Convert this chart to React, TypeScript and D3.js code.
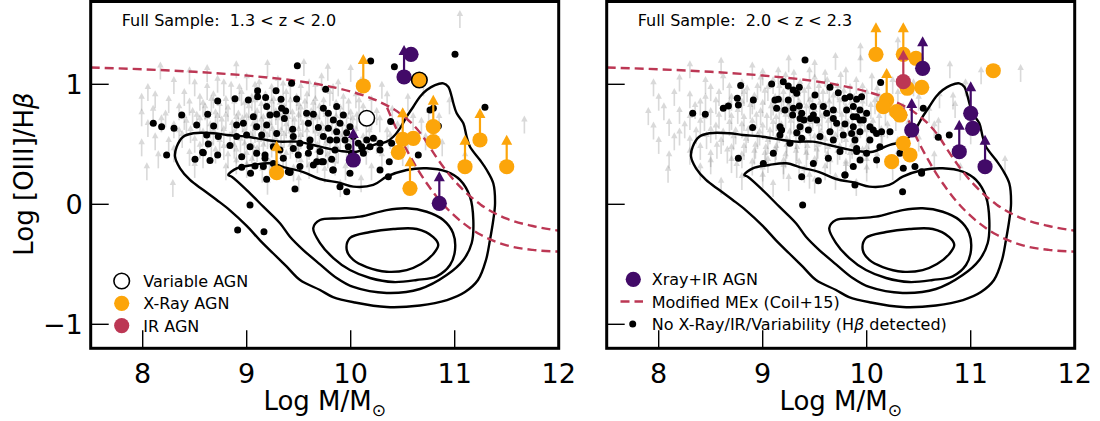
import React from 'react';
import * as d3 from 'd3';

type P = [number, number];
type L = [number, number, number];

const X_DOMAIN: P = [7.5, 12];
const Y_DOMAIN: P = [-1.2, 1.7];
const X_TICKS = [8, 9, 10, 11, 12];
const Y_TICKS = [-1, 0, 1];
const Y_TICK_LABELS = ['\u22121', '0', '1'];

const C_ORANGE = '#fca50a';
const C_PURPLE = '#420a68';
const C_RED = '#bc3754';

// Modified MEx demarcation (Coil+15)
const MEX_UPPER: P[] = [
  [7.5, 1.14], [8.0, 1.125], [8.5, 1.104], [9.0, 1.073], [9.5, 1.026], [9.75, 0.99], [10.0, 0.94],
  [10.25, 0.865], [10.5, 0.74], [10.6, 0.663], [10.7, 0.558], [10.75, 0.49], [10.9, 0.3], [11.0, 0.194],
  [11.1, 0.105], [11.25, -0.003], [11.5, -0.12], [11.75, -0.181], [12.0, -0.22],
];
const MEX_LOWER: P[] = [
  [10.35, 0.805], [10.4, 0.705], [10.45, 0.608], [10.5, 0.518], [10.6, 0.357], [10.65, 0.283],
  [10.75, 0.152], [10.875, 0.013], [11.0, -0.097], [11.25, -0.254], [11.5, -0.342], [11.75, -0.38], [12.0, -0.394],
];

// SDSS density contours
const CONTOUR_OUTER: P[] = [
  [8.311, 0.397], [8.327, 0.48], [8.39, 0.563], [8.487, 0.592], [8.679, 0.592], [8.808, 0.578], [9.0, 0.563],
  [9.192, 0.536], [9.32, 0.522], [9.481, 0.522], [9.64, 0.494], [9.769, 0.467], [9.897, 0.445], [10.058, 0.438],
  [10.217, 0.494], [10.346, 0.522], [10.41, 0.563], [10.474, 0.633], [10.538, 0.73], [10.602, 0.813],
  [10.666, 0.897], [10.731, 0.953], [10.811, 0.994], [10.89, 1.008], [10.938, 0.98], [10.971, 0.897],
  [10.987, 0.842], [11.019, 0.758], [11.083, 0.675], [11.115, 0.563], [11.147, 0.48], [11.243, 0.369],
  [11.308, 0.286], [11.371, 0.175], [11.388, 0.008], [11.371, -0.131], [11.339, -0.298], [11.301, -0.464],
  [11.224, -0.631], [11.099, -0.731], [10.926, -0.798], [10.666, -0.843], [10.346, -0.856], [10.041, -0.818],
  [9.83, -0.773], [9.705, -0.714], [9.513, -0.631], [9.385, -0.52], [9.256, -0.41], [9.128, -0.3],
  [9.0, -0.18], [8.839, -0.05], [8.712, 0.036], [8.583, 0.119], [8.455, 0.203], [8.359, 0.3],
];
const CONTOUR_MID: P[] = [
  [8.823, 0.244], [8.904, 0.3], [9.063, 0.328], [9.224, 0.342], [9.385, 0.303], [9.544, 0.269], [9.705, 0.211],
  [9.897, 0.178], [10.025, 0.147], [10.217, 0.161], [10.346, 0.23], [10.538, 0.286], [10.731, 0.3],
  [10.923, 0.272], [11.051, 0.203], [11.147, 0.063], [11.179, -0.131], [11.163, -0.325], [11.083, -0.464],
  [10.923, -0.59], [10.666, -0.706], [10.346, -0.739], [10.025, -0.689], [9.865, -0.614], [9.705, -0.5],
  [9.544, -0.381], [9.416, -0.27], [9.32, -0.158], [9.16, -0.02], [9.0, 0.119], [8.856, 0.23],
];
const CONTOUR_THIRD: P[] = [
  [9.64, -0.198], [9.705, -0.131], [9.897, -0.117], [10.089, -0.103], [10.346, -0.048], [10.538, -0.033],
  [10.731, -0.062], [10.89, -0.131], [10.984, -0.239], [11.003, -0.381], [10.955, -0.506], [10.827, -0.6],
  [10.635, -0.631], [10.41, -0.648], [10.186, -0.614], [9.993, -0.548], [9.833, -0.448], [9.705, -0.323],
];
const CONTOUR_INNER: P[] = [
  [9.962, -0.381], [9.993, -0.281], [10.186, -0.231], [10.41, -0.206], [10.635, -0.206], [10.794, -0.273],
  [10.842, -0.339], [10.794, -0.414], [10.676, -0.498], [10.538, -0.548], [10.346, -0.562], [10.154, -0.523],
  [10.025, -0.464],
];

// ---------- Left panel (1.3 < z < 2.0) ----------
// H-beta non-detections (lower limits), sparse outskirts
const LEFT_GREY: P[] = [
  [8.17, 1.04], [8.45, 1.0], [8.62, 1.02], [8.9, 1.05], [9.2, 1.06], [9.55, 1.07], [9.78, 1.03], [10.0, 1.02],
  [8.05, 0.86], [8.3, 0.92], [8.5, 0.9], [8.72, 0.93], [8.85, 0.88], [9.0, 0.95], [9.12, 0.9], [9.3, 0.93],
  [9.42, 0.88], [9.6, 0.9], [9.72, 0.95], [9.88, 0.9], [10.1, 0.92], [10.3, 0.88],
  [7.99, 0.78], [8.12, 0.8], [8.25, 0.76], [8.4, 0.82], [8.55, 0.78], [8.68, 0.8], [8.8, 0.76], [8.95, 0.82],
  [9.05, 0.78], [9.18, 0.8], [9.26, 0.76], [9.38, 0.82], [9.48, 0.78], [9.58, 0.8], [9.66, 0.76], [9.8, 0.82],
  [9.93, 0.78], [10.05, 0.8], [10.2, 0.76], [10.35, 0.8], [10.55, 0.78],
  [7.99, 0.65], [8.1, 0.68], [8.22, 0.64], [8.35, 0.7], [8.48, 0.66], [8.6, 0.7], [8.7, 0.65], [8.82, 0.69],
  [8.92, 0.64], [9.02, 0.7], [9.1, 0.66], [9.2, 0.71], [9.28, 0.66], [9.36, 0.7], [9.44, 0.65], [9.52, 0.69],
  [9.62, 0.66], [9.7, 0.7], [9.78, 0.64], [9.9, 0.69], [10.0, 0.65], [10.12, 0.7], [10.25, 0.66], [10.4, 0.68],
  [10.6, 0.62], [10.75, 0.66],
  [8.05, 0.56], [8.18, 0.6], [8.3, 0.55], [8.42, 0.58], [8.55, 0.6], [8.65, 0.55], [8.76, 0.59], [8.86, 0.56],
  [8.96, 0.6], [9.06, 0.55], [9.14, 0.59], [9.22, 0.56], [9.3, 0.6], [9.38, 0.55], [9.46, 0.59], [9.54, 0.56],
  [9.64, 0.6], [9.72, 0.55], [9.82, 0.58], [9.92, 0.55], [10.02, 0.6], [10.15, 0.56], [10.28, 0.6], [10.45, 0.55],
  [10.68, 0.58], [10.85, 0.62],
  [7.99, 0.4], [8.12, 0.45], [8.25, 0.42], [8.38, 0.47], [8.5, 0.43], [8.62, 0.46], [8.74, 0.42], [8.84, 0.46],
  [8.94, 0.43], [9.04, 0.47], [9.12, 0.42], [9.2, 0.46], [9.28, 0.43], [9.36, 0.47], [9.44, 0.42], [9.52, 0.46],
  [9.6, 0.43], [9.7, 0.47], [9.8, 0.42], [9.9, 0.46], [10.0, 0.42], [10.12, 0.45], [10.25, 0.42], [10.38, 0.46],
  [10.55, 0.44], [10.72, 0.45], [10.88, 0.4],
  [8.15, 0.3], [8.3, 0.35], [8.45, 0.32], [8.58, 0.3], [8.7, 0.34], [8.82, 0.3], [8.9, 0.34], [9.0, 0.31],
  [9.1, 0.35], [9.18, 0.3], [9.28, 0.34], [9.38, 0.31], [9.48, 0.35], [9.58, 0.3], [9.68, 0.33], [9.78, 0.3],
  [9.88, 0.34], [10.0, 0.31], [10.15, 0.33], [10.3, 0.3], [10.5, 0.32],
  [8.04, 0.2], [8.5, 0.22], [8.8, 0.2], [9.0, 0.22], [9.15, 0.18], [9.3, 0.22], [9.45, 0.19], [9.6, 0.21],
  [9.75, 0.18], [9.95, 0.2], [10.2, 0.2],
  [8.29, 0.06], [9.2, 0.08], [9.5, 0.1], [9.9, 0.06], [10.1, 0.1],
  [11.05, 1.47], [11.67, 0.59], [10.95, 0.75], [10.7, 0.9], [11.1, 0.3],
];
// H-beta non-detections, dense core of the cloud
const LEFT_GREY_CORE: P[] = [
  [8.62, 0.87], [8.78, 0.9], [8.93, 0.86], [9.08, 0.88], [9.24, 0.86], [9.35, 0.89], [9.52, 0.87], [9.66, 0.88], [9.83, 0.86],
  [8.45, 0.74], [8.58, 0.73], [8.66, 0.76], [8.74, 0.72], [8.88, 0.74], [8.98, 0.73], [9.08, 0.75], [9.14, 0.72],
  [9.24, 0.74], [9.32, 0.73], [9.42, 0.75], [9.5, 0.72], [9.56, 0.74], [9.64, 0.73], [9.74, 0.75], [9.86, 0.73],
  [9.98, 0.74], [10.08, 0.75],
  [8.4, 0.62], [8.52, 0.63], [8.62, 0.61], [8.72, 0.62], [8.8, 0.63], [8.9, 0.61], [9.0, 0.62], [9.08, 0.63],
  [9.16, 0.61], [9.24, 0.63], [9.34, 0.62], [9.4, 0.61], [9.5, 0.63], [9.58, 0.62], [9.68, 0.61], [9.76, 0.63],
  [9.86, 0.62], [9.96, 0.61], [10.06, 0.63], [10.2, 0.62],
  [8.35, 0.5], [8.46, 0.51], [8.58, 0.49], [8.68, 0.5], [8.78, 0.51], [8.88, 0.49], [8.98, 0.5], [9.08, 0.51],
  [9.17, 0.49], [9.25, 0.51], [9.33, 0.5], [9.42, 0.49], [9.5, 0.51], [9.58, 0.5], [9.66, 0.49], [9.75, 0.51],
  [9.85, 0.5], [9.95, 0.49], [10.05, 0.51], [10.18, 0.5], [10.35, 0.5],
  [8.55, 0.38], [8.66, 0.39], [8.78, 0.37], [8.88, 0.38], [8.98, 0.39], [9.06, 0.37], [9.16, 0.38], [9.24, 0.39],
  [9.33, 0.37], [9.42, 0.38], [9.5, 0.39], [9.6, 0.37], [9.68, 0.38], [9.76, 0.39], [9.86, 0.37], [9.96, 0.38],
  [8.9, 0.25], [9.05, 0.26], [9.22, 0.24], [9.35, 0.26], [9.52, 0.25], [9.68, 0.26], [9.85, 0.24],
];
const LEFT_BLACK: P[] = [
  [9.487, 1.155], [9.432, 1.008], [9.759, 0.958], [9.105, 0.947], [9.282, 0.947], [8.887, 0.88], [9.016, 0.869],
  [9.105, 0.897], [9.182, 0.891], [9.33, 0.875], [9.48, 0.877], [8.721, 0.861], [9.192, 0.814], [9.336, 0.8],
  [9.375, 0.777], [9.224, 0.744], [9.288, 0.75], [9.362, 0.716], [8.375, 0.744], [8.102, 0.675], [8.182, 0.647],
  [8.301, 0.633], [8.519, 0.661], [8.625, 0.75], [8.682, 0.652], [8.903, 0.661], [8.968, 0.675], [9.064, 0.73],
  [9.096, 0.647], [9.192, 0.661], [9.442, 0.625], [9.576, 0.758], [9.641, 0.75], [9.737, 0.8], [9.785, 0.758],
  [9.865, 0.814], [9.833, 0.702], [9.785, 0.633], [9.593, 0.675], [9.689, 0.639], [9.865, 0.605], [8.615, 0.577],
  [8.727, 0.564], [8.903, 0.564], [8.999, 0.577], [9.144, 0.577], [9.288, 0.591], [9.448, 0.564], [9.512, 0.508],
  [9.448, 0.466], [9.609, 0.536], [9.737, 0.564], [9.801, 0.536], [8.631, 0.502], [8.839, 0.489], [9.032, 0.48],
  [9.256, 0.48], [9.32, 0.452], [9.609, 0.48], [9.705, 0.439], [9.849, 0.452], [8.23, 0.411], [8.503, 0.375],
  [8.576, 0.433], [8.721, 0.411], [8.952, 0.397], [9.096, 0.425], [9.176, 0.383], [9.352, 0.383], [9.496, 0.411],
  [9.593, 0.425], [9.721, 0.355], [9.817, 0.375], [9.641, 0.327], [9.512, 0.314], [9.08, 0.319], [9.16, 0.314],
  [9.416, 0.264], [9.464, 0.128], [9.192, 0.208], [9.032, -0.006], [9.166, -0.228], [8.913, -0.214],
  [9.037, 0.258], [9.416, 0.272], [9.256, 0.341], [9.4, 0.272], [9.673, 0.355], [9.737, 0.355], [9.827, 0.286],
  [8.952, 0.308], [8.647, 0.364], [8.583, 0.43], [9.176, 0.411],
  [11.003, 1.25], [10.192, 1.194], [10.42, 1.147], [9.929, 0.744], [9.897, 0.675], [9.993, 0.647], [9.961, 0.597],
  [9.865, 0.536], [9.945, 0.536], [10.025, 0.564], [10.073, 0.508], [10.105, 0.48], [10.154, 0.536],
  [10.218, 0.55], [10.186, 0.48], [10.122, 0.425], [9.977, 0.48], [10.009, 0.425], [10.282, 0.508],
  [10.394, 0.508], [10.384, 0.689], [10.371, 0.355], [10.65, 0.411], [10.763, 0.786], [10.795, 0.8],
  [10.843, 0.653], [11.291, 0.808], [9.993, 0.258], [9.833, 0.286], [10.282, 0.286], [10.362, 0.23],
  [10.282, 0.452], [9.897, 0.147], [9.962, 0.105],
];
// [x, y, lowerLimit]
const LEFT_XRAY: L[] = [
  [10.121, 0.986, 1], [10.5, 0.542, 1], [10.458, 0.433, 0], [10.602, 0.55, 0], [10.794, 0.647, 1],
  [10.794, 0.522, 0], [10.57, 0.133, 1], [11.099, 0.313, 1], [11.243, 0.536, 1], [11.5, 0.313, 1],
  [9.288, 0.263, 1],
];
const LEFT_XRAYIR: L[] = [
  [10.025, 0.369, 1], [10.58, 1.25, 0], [10.513, 1.061, 1], [10.852, 0.008, 1],
];
const LEFT_VARIABLE: P[] = [[10.154, 0.717]];
const LEFT_XRAY_VARIABLE: P[] = [[10.66, 1.036]];

// ---------- Right panel (2.0 < z < 2.3) ----------
const RIGHT_GREY: P[] = [
  [8.3, 1.05], [8.6, 1.08], [8.9, 1.04], [9.25, 1.1], [9.5, 1.06], [9.7, 1.12], [9.94, 1.1],
  [7.95, 0.9], [8.2, 0.94], [8.45, 0.92], [8.62, 0.95], [8.8, 0.9], [8.98, 0.94], [9.1, 0.92], [9.22, 0.96],
  [9.36, 0.9], [9.5, 0.94], [9.62, 0.92], [9.75, 0.96], [9.9, 0.92], [10.05, 0.95], [10.25, 0.92], [10.45, 0.9],
  [8.0, 0.78], [8.15, 0.82], [8.3, 0.8], [8.45, 0.78], [8.58, 0.82], [8.7, 0.78], [8.82, 0.82], [8.92, 0.79],
  [9.02, 0.83], [9.12, 0.78], [9.2, 0.82], [9.3, 0.79], [9.4, 0.83], [9.48, 0.78], [9.58, 0.82], [9.68, 0.79],
  [9.78, 0.83], [9.88, 0.78], [10.0, 0.82], [10.12, 0.79], [10.3, 0.82], [10.5, 0.78], [10.7, 0.8],
  [7.9, 0.66], [8.05, 0.7], [8.2, 0.67], [8.35, 0.71], [8.5, 0.66], [8.64, 0.7], [8.76, 0.67], [8.88, 0.71],
  [8.98, 0.66], [9.08, 0.7], [9.16, 0.67], [9.25, 0.71], [9.34, 0.66], [9.42, 0.7], [9.5, 0.67], [9.6, 0.71],
  [9.7, 0.66], [9.8, 0.7], [9.92, 0.67], [10.04, 0.71], [10.18, 0.66], [10.35, 0.7], [10.6, 0.68], [10.85, 0.72],
  [7.95, 0.54], [8.1, 0.57], [8.25, 0.55], [8.4, 0.58], [8.55, 0.54], [8.68, 0.57], [8.8, 0.55], [8.9, 0.58],
  [9.0, 0.54], [9.1, 0.57], [9.18, 0.55], [9.27, 0.58], [9.36, 0.54], [9.45, 0.57], [9.54, 0.55], [9.63, 0.58],
  [9.72, 0.54], [9.82, 0.57], [9.94, 0.55], [10.06, 0.58], [10.2, 0.55], [10.4, 0.57], [10.65, 0.55],
  [8.0, 0.42], [8.15, 0.45], [8.3, 0.43], [8.46, 0.46], [8.6, 0.42], [8.72, 0.45], [8.84, 0.43], [8.95, 0.46],
  [9.05, 0.42], [9.14, 0.45], [9.23, 0.43], [9.32, 0.46], [9.41, 0.42], [9.5, 0.45], [9.6, 0.43], [9.7, 0.46],
  [9.8, 0.42], [9.9, 0.45], [10.02, 0.43], [10.15, 0.46], [10.3, 0.42], [10.5, 0.44],
  [8.1, 0.3], [8.3, 0.33], [8.5, 0.31], [8.66, 0.34], [8.8, 0.3], [8.92, 0.33], [9.02, 0.31], [9.12, 0.34],
  [9.22, 0.3], [9.32, 0.33], [9.42, 0.31], [9.52, 0.34], [9.62, 0.3], [9.72, 0.33], [9.84, 0.31], [9.96, 0.34],
  [10.1, 0.3], [10.3, 0.32],
  [8.09, 0.18], [8.4, 0.2], [8.75, 0.22], [9.0, 0.19], [9.2, 0.21], [9.4, 0.18], [9.6, 0.2], [9.8, 0.22],
  [10.0, 0.19], [10.25, 0.2],
  [8.6, 0.08], [9.1, 0.06], [9.5, 0.09], [9.9, 0.07],
  [11.48, 1.02], [11.33, 0.26], [9.94, 1.2], [10.3, 1.25], [10.8, 1.05], [10.65, 0.3], [11.0, 0.5],
  [10.95, 0.9], [10.9, 0.2], [11.1, 1.0], [10.83, 0.79], [10.69, 0.58],
];
const RIGHT_GREY_CORE: P[] = [
  [9.0, 0.99], [9.15, 1.0], [9.3, 0.98], [9.45, 1.0], [9.6, 0.98], [9.8, 1.0],
  [8.5, 0.86], [8.68, 0.87], [8.85, 0.85], [8.95, 0.87], [9.05, 0.86], [9.16, 0.87], [9.26, 0.85], [9.34, 0.87],
  [9.44, 0.86], [9.54, 0.87], [9.64, 0.85], [9.72, 0.87], [9.84, 0.86], [9.96, 0.87], [10.1, 0.85],
  [8.4, 0.74], [8.55, 0.75], [8.68, 0.73], [8.8, 0.74], [8.9, 0.75], [9.0, 0.73], [9.1, 0.74], [9.18, 0.75],
  [9.26, 0.73], [9.35, 0.74], [9.45, 0.75], [9.55, 0.73], [9.64, 0.74], [9.74, 0.75], [9.85, 0.73], [9.96, 0.74],
  [10.08, 0.75], [10.22, 0.74],
  [8.3, 0.62], [8.44, 0.61], [8.58, 0.63], [8.7, 0.62], [8.82, 0.61], [8.94, 0.63], [9.04, 0.62], [9.13, 0.61],
  [9.22, 0.63], [9.3, 0.62], [9.39, 0.61], [9.48, 0.63], [9.57, 0.62], [9.66, 0.61], [9.76, 0.63], [9.86, 0.62],
  [9.98, 0.61], [10.12, 0.62], [10.28, 0.61],
  [8.2, 0.49], [8.36, 0.5], [8.5, 0.51], [8.62, 0.49], [8.74, 0.5], [8.86, 0.51], [8.97, 0.49], [9.07, 0.5],
  [9.16, 0.51], [9.26, 0.49], [9.36, 0.5], [9.46, 0.51], [9.56, 0.49], [9.66, 0.5], [9.76, 0.51], [9.88, 0.49],
  [10.0, 0.5], [10.14, 0.51],
  [8.4, 0.37], [8.56, 0.38], [8.7, 0.36], [8.82, 0.37], [8.93, 0.38], [9.03, 0.36], [9.13, 0.37], [9.23, 0.38],
  [9.33, 0.36], [9.43, 0.37], [9.53, 0.38], [9.63, 0.36], [9.74, 0.37], [9.86, 0.38], [10.0, 0.36],
  [8.5, 0.25], [8.7, 0.26], [8.9, 0.24], [9.05, 0.26], [9.2, 0.25], [9.35, 0.24], [9.5, 0.26], [9.65, 0.25],
  [9.8, 0.24], [10.0, 0.26],
  [8.8, 0.12], [9.0, 0.13], [9.25, 0.11], [9.45, 0.13], [9.7, 0.12],
];
const RIGHT_BLACK: P[] = [
  [9.407, 1.202], [9.086, 1.002], [9.198, 1.022], [9.246, 0.986], [9.294, 0.953], [9.352, 0.975], [9.327, 0.925],
  [8.788, 0.991], [8.756, 0.883], [8.766, 0.827], [8.621, 0.8], [8.67, 0.819], [8.91, 0.869], [8.327, 0.758],
  [8.448, 0.75], [9.118, 0.869], [9.15, 0.875], [9.134, 0.8], [9.214, 0.786], [9.246, 0.869], [9.294, 0.8],
  [9.352, 0.819], [9.375, 0.758], [9.359, 0.716], [9.397, 0.702], [9.461, 0.716], [9.487, 0.744], [9.288, 0.744],
  [9.359, 0.647], [9.327, 0.597], [9.439, 0.619], [9.519, 0.702], [9.487, 0.814], [9.583, 0.814], [9.615, 0.758],
  [9.679, 0.786], [9.679, 0.716], [9.711, 0.675], [9.727, 0.93], [9.647, 0.975], [9.503, 0.911], [9.791, 0.883],
  [9.839, 0.897], [9.903, 0.875], [9.807, 0.786], [9.871, 0.73], [9.791, 0.669], [9.936, 0.702], [8.903, 0.641],
  [9.166, 0.647], [9.166, 0.577], [9.375, 0.55], [9.551, 0.564], [9.647, 0.605], [9.775, 0.577], [9.855, 0.591],
  [9.887, 0.536], [9.679, 0.536], [9.743, 0.439], [9.903, 0.466], [9.631, 0.383], [9.262, 0.508], [9.102, 0.425],
  [9.487, 0.341], [8.766, 0.383], [9.006, 0.341], [9.791, 0.244], [9.936, 0.369], [9.182, 0.619],
  [10.134, 1.014], [9.951, 0.897], [9.871, 0.814], [9.935, 0.786], [9.999, 0.758], [9.903, 0.73], [9.967, 0.702],
  [9.871, 0.647], [10.031, 0.647], [9.935, 0.605], [10.063, 0.619], [10.095, 0.591], [10.143, 0.605],
  [10.224, 0.605], [10.031, 0.536], [10.127, 0.48], [9.903, 0.439], [9.999, 0.425], [10.095, 0.369],
  [10.32, 0.425], [10.352, 0.3], [10.464, 0.314], [10.544, 0.8], [10.688, 0.558], [10.794, 0.577],
  [10.528, 0.272], [9.871, 0.314], [9.375, 0.23], [9.535, 0.197], [9.791, 0.244], [9.887, 0.161],
  [9.384, -0.006], [10.345, 0.105], [10.528, 0.258],
];
const RIGHT_XRAY: L[] = [
  [10.089, 1.25, 1], [10.352, 1.25, 1], [10.474, 1.217, 0], [10.39, 0.967, 0], [10.529, 0.975, 0],
  [10.192, 0.869, 1], [10.16, 0.813, 0], [10.288, 0.772, 0], [10.32, 0.744, 0], [10.352, 0.508, 0],
  [10.416, 0.411, 0], [10.24, 0.355, 0], [11.217, 1.113, 0],
];
const RIGHT_IR: L[] = [[10.352, 1.022, 1]];
const RIGHT_XRAYIR: L[] = [
  [10.538, 1.133, 1], [10.433, 0.619, 1], [11.0, 0.758, 1], [11.019, 0.633, 0], [10.89, 0.438, 1],
  [11.138, 0.313, 1],
];

const FONT = '"DejaVu Sans", "Liberation Sans", sans-serif';
const Y_RANGE: P = [348.3, 0.3];
const FRAME_TOP = 1.5;
const FRAME_BOTTOM = 348.3;

function Marker({ cx, cy, r, fill, stroke, arrow }: any) {
  return (
    <g>
      {arrow ? (
        <g>
          <line x1={cx} y1={cy} x2={cx} y2={cy - 23} stroke={fill} strokeWidth={2.2} />
          <path d={`M${cx - 5.5},${cy - 22} L${cx + 5.5},${cy - 22} L${cx},${cy - 32} Z`} fill={fill} />
        </g>
      ) : null}
      <circle cx={cx} cy={cy} r={r} fill={fill} stroke={stroke || 'none'} strokeWidth={stroke ? 1.6 : 0} />
    </g>
  );
}

function Panel(props: any) {
  const { x0, x1, id, title, grey, black, xray, xrayir, ir, variable, xrayVar, showYLabels, legend } = props;
  const x = d3.scaleLinear().domain(X_DOMAIN).range([x0, x1]);
  const y = d3.scaleLinear().domain(Y_DOMAIN).range(Y_RANGE);
  const open = d3.line<P>().x(d => x(d[0])).y(d => y(d[1])).curve(d3.curveMonotoneX);
  const closed = d3.line<P>().x(d => x(d[0])).y(d => y(d[1])).curve(d3.curveCatmullRomClosed.alpha(0.5));
  const contours = [CONTOUR_OUTER, CONTOUR_MID, CONTOUR_THIRD, CONTOUR_INNER];
  return (
    <g>
      <defs>
        <clipPath id={id}>
          <rect x={x0} y={FRAME_TOP} width={x1 - x0} height={FRAME_BOTTOM - FRAME_TOP} />
        </clipPath>
      </defs>
      <g clipPath={`url(#${id})`}>
        {grey.map((d: P, i: number) => {
          const cx = x(d[0]);
          const cy = y(d[1]);
          return (
            <g key={'g' + i} opacity={0.25}>
              <line x1={cx} y1={cy} x2={cx} y2={cy - 13} stroke="#6a6a6a" strokeWidth={1.6} />
              <path d={`M${cx - 3.2},${cy - 12} L${cx + 3.2},${cy - 12} L${cx},${cy - 18} Z`} fill="#6a6a6a" />
            </g>
          );
        })}
        {contours.map((c, i) => (
          <path key={'c' + i} d={closed(c) || ''} fill="none" stroke="#000" strokeWidth={2.4} />
        ))}
        <path d={open(MEX_UPPER) || ''} fill="none" stroke={C_RED} strokeWidth={2.4} strokeDasharray="9,5" />
        <path d={open(MEX_LOWER) || ''} fill="none" stroke={C_RED} strokeWidth={2.4} strokeDasharray="9,5" />
        {black.map((d: P, i: number) => (
          <circle key={'b' + i} cx={x(d[0])} cy={y(d[1])} r={3.5} fill="#000" />
        ))}
        {(variable || []).map((d: P, i: number) => (
          <circle key={'v' + i} cx={x(d[0])} cy={y(d[1])} r={7.8} fill="#fff" stroke="#000" strokeWidth={1.6} />
        ))}
        {(xray || []).map((d: L, i: number) => (
          <Marker key={'x' + i} cx={x(d[0])} cy={y(d[1])} r={7.6} fill={C_ORANGE} arrow={d[2]} />
        ))}
        {(ir || []).map((d: L, i: number) => (
          <Marker key={'r' + i} cx={x(d[0])} cy={y(d[1])} r={7.6} fill={C_RED} arrow={d[2]} />
        ))}
        {(xrayir || []).map((d: L, i: number) => (
          <Marker key={'p' + i} cx={x(d[0])} cy={y(d[1])} r={7.6} fill={C_PURPLE} arrow={d[2]} />
        ))}
        {(xrayVar || []).map((d: P, i: number) => (
          <Marker key={'xv' + i} cx={x(d[0])} cy={y(d[1])} r={7.8} fill={C_ORANGE} stroke="#000" arrow={0} />
        ))}
      </g>
      {X_TICKS.map(t => (
        <g key={'xt' + t}>
          <line x1={x(t)} x2={x(t)} y1={FRAME_BOTTOM} y2={FRAME_BOTTOM - 18} stroke="#000" strokeWidth={1.4} />
          <text x={x(t)} y={383} textAnchor="middle" fontFamily={FONT} fontSize={27} fill="#000">{t}</text>
        </g>
      ))}
      {Y_TICKS.map((t, i) => (
        <g key={'yt' + t}>
          <line x1={x0} x2={x0 + 18} y1={y(t)} y2={y(t)} stroke="#000" strokeWidth={1.4} />
          {showYLabels ? (
            <text x={x0 - 8} y={y(t) + 10} textAnchor="end" fontFamily={FONT} fontSize={27} fill="#000">
              {Y_TICK_LABELS[i]}
            </text>
          ) : null}
        </g>
      ))}
      <rect x={x0} y={FRAME_TOP} width={x1 - x0} height={FRAME_BOTTOM - FRAME_TOP} fill="none" stroke="#000" strokeWidth={3} />
      <text x={x0 + 31} y={26} fontFamily={FONT} fontSize={16} fill="#000" style={{ whiteSpace: 'pre' }}>
        {title}
      </text>
      <text x={(x0 + x1) / 2} y={410} textAnchor="middle" fontFamily={FONT} fontSize={26} fill="#000">
        Log M/M<tspan fontSize={17} dy={6}>{'\u2299'}</tspan>
      </text>
      {legend}
    </g>
  );
}

export default function App() {
  const legendLeft = (
    <g fontFamily={FONT} fontSize={16} fill="#000">
      <circle cx={121.7} cy={281} r={7.8} fill="#fff" stroke="#000" strokeWidth={1.6} />
      <text x={143.3} y={287}>Variable AGN</text>
      <circle cx={121.7} cy={303.3} r={7.6} fill={C_ORANGE} />
      <text x={143.3} y={309.3}>X-Ray AGN</text>
      <circle cx={121.7} cy={325.6} r={7.6} fill={C_RED} />
      <text x={143.3} y={331.6}>IR AGN</text>
    </g>
  );
  const legendRight = (
    <g fontFamily={FONT} fontSize={16} fill="#000">
      <circle cx={633.3} cy={279.3} r={7.6} fill={C_PURPLE} />
      <text x={651.7} y={285.3}>Xray+IR AGN</text>
      <line x1={620.5} x2={643} y1={301.5} y2={301.5} stroke={C_RED} strokeWidth={2.4} strokeDasharray="9,5" />
      <text x={651.7} y={307.5}>Modified MEx (Coil+15)</text>
      <circle cx={632.7} cy={324} r={3.5} fill="#000" />
      <text x={651.7} y={330}>
        No X-Ray/IR/Variability (H<tspan fontStyle="italic">{'\u03b2'}</tspan> detected)
      </text>
    </g>
  );
  return (
    <svg width={1100} height={421} style={{ position: 'absolute', left: 0, top: 0, background: '#fff' }}>
      <rect x={0} y={0} width={1100} height={421} fill="#fff" />
      <Panel
        x0={90.7} x1={558.7} id="clipL" title={'Full Sample:  1.3 < z < 2.0'}
        grey={LEFT_GREY.concat(LEFT_GREY_CORE)} black={LEFT_BLACK} xray={LEFT_XRAY} xrayir={LEFT_XRAYIR}
        variable={LEFT_VARIABLE} xrayVar={LEFT_XRAY_VARIABLE} showYLabels legend={legendLeft}
      />
      <Panel
        x0={606.7} x1={1074.7} id="clipR" title={'Full Sample:  2.0 < z < 2.3'}
        grey={RIGHT_GREY.concat(RIGHT_GREY_CORE)} black={RIGHT_BLACK} xray={RIGHT_XRAY} xrayir={RIGHT_XRAYIR} ir={RIGHT_IR}
        showYLabels={false} legend={legendRight}
      />
      <text transform="translate(33,174) rotate(-90)" textAnchor="middle" fontFamily={FONT} fontSize={26} fill="#000">
        Log [OIII]/H<tspan fontStyle="italic">{'\u03b2'}</tspan>
      </text>
    </svg>
  );
}
